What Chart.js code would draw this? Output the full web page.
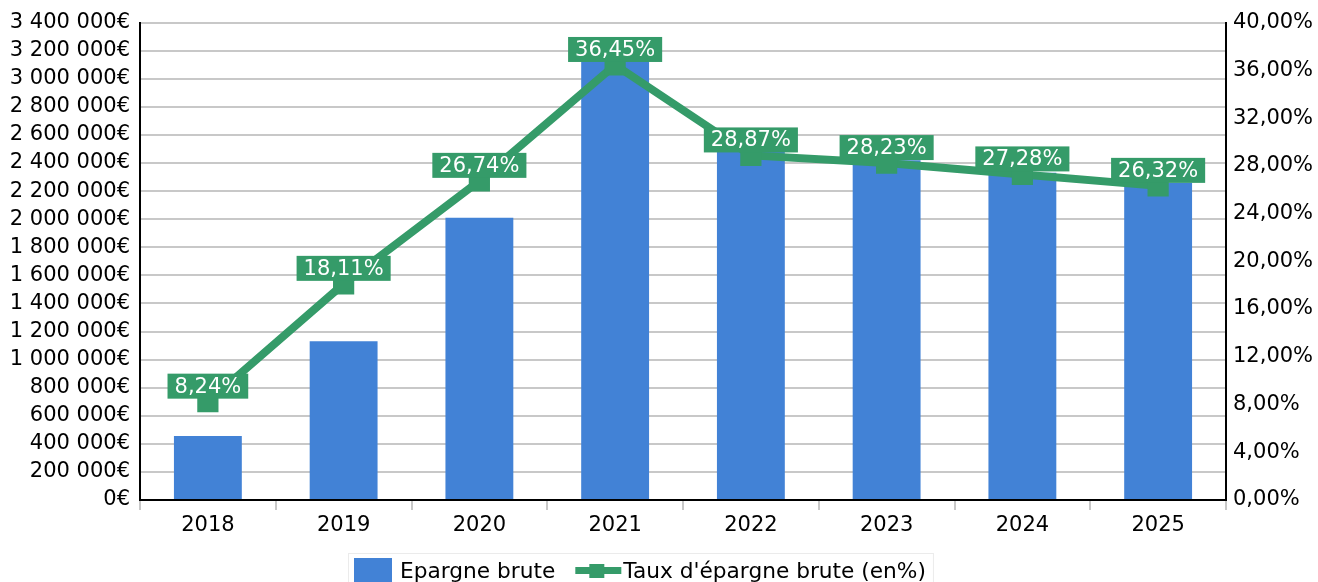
<!DOCTYPE html>
<html>
<head>
<meta charset="utf-8">
<script src="https://cdn.jsdelivr.net/npm/chart.js@4"></script>
<style>
  html, body { margin: 0; padding: 0; overflow: hidden; background: #fff; }
  #wrap { width: 1318px; height: 582px; }
</style>
</head>
<body>
<div id="wrap"><canvas id="chart"></canvas></div>
<script>
const years = ['2018', '2019', '2020', '2021', '2022', '2023', '2024', '2025'];
const epargneBrute = [455000, 1130000, 2010000, 3150000, 2490000, 2420000, 2330000, 2260000];
const tauxEpargne = [8.24, 18.11, 26.74, 36.45, 28.87, 28.23, 27.28, 26.32];
const seriesNames = ['Epargne brute', "Taux d'épargne brute (en%)"];

const blue = '#4282d6';
const green = '#359b69';
const font = 'DejaVu Sans';

function euro(v) {
  return String(v).replace(/\B(?=(\d{3})+(?!\d))/g, ' ') + '€';
}
function pct(v) {
  return v.toFixed(2).replace('.', ',') + '%';
}

// green boxes with the rate above each point + the legend under the chart
const extras = {
  id: 'extras',
  afterDatasetsDraw(chart) {
    const meta = chart.getDatasetMeta(1);
    const ctx = chart.ctx;
    ctx.save();
    ctx.font = '21px "' + font + '"';
    ctx.textAlign = 'center';
    ctx.textBaseline = 'middle';
    meta.data.forEach((pt, i) => {
      const txt = pct(tauxEpargne[i]);
      const w = ctx.measureText(txt).width + 14;
      const h = 25;
      const bottom = pt.y - 3;
      ctx.fillStyle = green;
      ctx.fillRect(pt.x - w / 2, bottom - h, w, h);
      ctx.fillStyle = '#fff';
      ctx.fillText(txt, pt.x, bottom - h / 2 + 1);
    });
    ctx.restore();
  },
  afterDraw(chart) {
    const ctx = chart.ctx;
    ctx.save();
    ctx.font = '21.7px "' + font + '"';
    ctx.textBaseline = 'alphabetic';
    ctx.textAlign = 'left';
    const w1 = ctx.measureText(seriesNames[0]).width;
    const w2 = ctx.measureText(seriesNames[1]).width;
    const x0 = 354, base = 578;
    const x1 = x0 + 38 + 8;
    const x2 = x1 + w1 + 20;
    const x3 = x2 + 46 + 2;
    ctx.strokeStyle = '#ebebeb';
    ctx.lineWidth = 1;
    ctx.strokeRect(x0 - 5.5, 553.5, x3 + w2 + 7 - (x0 - 6), 40);
    ctx.fillStyle = blue;
    ctx.fillRect(x0, 558, 38, 30);
    ctx.fillStyle = green;
    ctx.fillRect(x2, 567, 46, 7);
    ctx.fillRect(x2 + 14, 564, 15, 14);
    ctx.fillStyle = '#000';
    ctx.fillText(seriesNames[0], x1, base);
    ctx.fillText(seriesNames[1], x3, base);
    ctx.restore();
  }
};

new Chart(document.getElementById('chart'), {
  data: {
    labels: years,
    datasets: [
      {
        type: 'bar',
        label: seriesNames[0],
        data: epargneBrute,
        backgroundColor: blue,
        barPercentage: 0.5,
        categoryPercentage: 1,
        yAxisID: 'y',
        order: 2
      },
      {
        type: 'line',
        label: seriesNames[1],
        data: tauxEpargne,
        borderColor: green,
        backgroundColor: green,
        borderWidth: 8,
        tension: 0,
        pointStyle: 'rect',
        pointRadius: 15,
        pointHoverRadius: 15,
        pointBorderWidth: 0,
        pointHoverBorderWidth: 0,
        yAxisID: 'y1',
        order: 1
      }
    ]
  },
  plugins: [extras],
  options: {
    responsive: true,
    maintainAspectRatio: false,
    animation: false,
    layout: { padding: { left: 10, right: 0, top: 21, bottom: 38 } },
    plugins: {
      tooltip: { enabled: false },
      legend: { display: false }
    },
    scales: {
      x: {
        grid: { offset: true, drawOnChartArea: false, drawTicks: true, tickLength: 10, color: '#c8c8c8', lineWidth: 2 },
        border: { color: '#000', width: 2 },
        ticks: { color: '#000', padding: 3, font: { family: font, size: 21 } },
        afterFit(scale) { scale.height = 44; }
      },
      y: {
        position: 'left',
        min: 0,
        max: 3400000,
        grid: { color: '#c8c8c8', lineWidth: 2, drawTicks: false },
        border: { color: '#000', width: 2 },
        ticks: {
          stepSize: 200000,
          autoSkip: false,
          maxTicksLimit: 40,
          padding: 10,
          color: '#000',
          font: { family: font, size: 21 },
          callback: v => euro(v)
        },
        afterFit(scale) { scale.width = 130; }
      },
      y1: {
        position: 'right',
        min: 0,
        max: 40,
        grid: { display: false, drawTicks: false },
        border: { color: '#000', width: 2 },
        ticks: {
          stepSize: 4,
          autoSkip: false,
          padding: 7,
          color: '#000',
          font: { family: font, size: 21 },
          callback: v => pct(v)
        },
        afterFit(scale) { scale.width = 92; }
      }
    }
  }
});
</script>
</body>
</html>
